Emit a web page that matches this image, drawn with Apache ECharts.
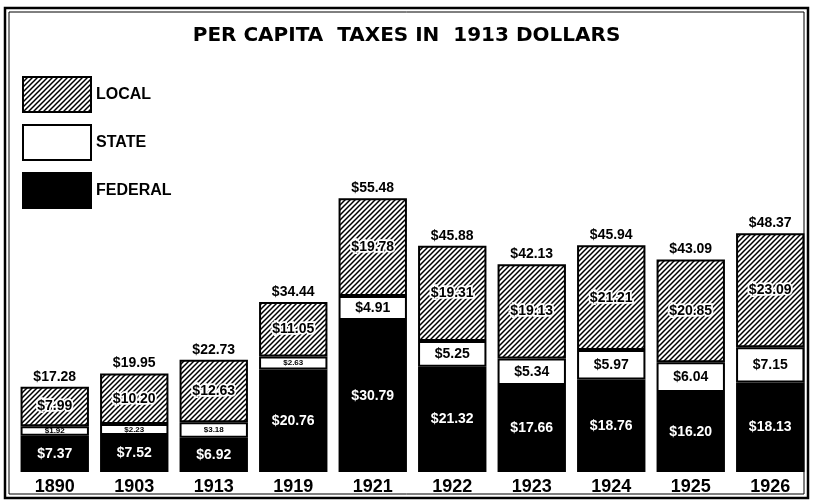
<!DOCTYPE html>
<html>
<head>
<meta charset="utf-8">
<script src="https://cdn.jsdelivr.net/npm/echarts@6/dist/echarts.min.js"></script>
<style>
  html, body { margin: 0; padding: 0; background: #fff; }
</style>
</head>
<body>
<div id="chart" style="width: 813px; height: 502px;"></div>
<script>
  // values (1913 dollars per capita)
  const years = ['1890', '1903', '1913', '1919', '1921', '1922', '1923', '1924', '1925', '1926'];
  const federal = [7.37, 7.52, 6.92, 20.76, 30.79, 21.32, 17.66, 18.76, 16.20, 18.13];
  const state = [1.92, 2.23, 3.18, 2.63, 4.91, 5.25, 5.34, 5.97, 6.04, 7.15];
  const local = [7.99, 10.20, 12.63, 11.05, 19.78, 19.31, 19.13, 21.21, 20.85, 23.09];
  const totals = [17.28, 19.95, 22.73, 34.44, 55.48, 45.88, 42.13, 45.94, 43.09, 48.37];

  // diagonal hatching for the local part
  function hatch() {
    let c = document.createElement('canvas');
    c.width = 5; c.height = 5;
    let ctx = c.getContext('2d');
    ctx.fillStyle = '#fff';
    ctx.fillRect(0, 0, 5, 5);
    ctx.strokeStyle = '#000';
    ctx.lineWidth = 1.5;
    ctx.beginPath();
    ctx.moveTo(-1, 6); ctx.lineTo(6, -1);
    ctx.moveTo(-4, 4); ctx.lineTo(4, -4);
    ctx.moveTo(1, 9); ctx.lineTo(9, 1);
    ctx.stroke();
    return c;
  }

  const money = v => '$' + v.toFixed(2);
  const labelFont = '"Liberation Sans Narrow", "Liberation Sans", Arial, sans-serif';

  let chart = echarts.init(document.getElementById('chart'));

  let option = {
    animation: false,
    title: {
      text: 'PER CAPITA  TAXES IN  1913 DOLLARS',
      left: 'center',
      top: 21,
      textStyle: { fontFamily: '"DejaVu Sans", sans-serif', fontWeight: 'bold', fontSize: 20, color: '#000' }
    },
    legend: {
      data: ['LOCAL', 'STATE', 'FEDERAL'],
      orient: 'vertical',
      left: 17,
      top: 71,
      itemWidth: 68,
      itemHeight: 35,
      itemGap: 11,
      icon: 'rect',
      selectedMode: false,
      textStyle: { fontFamily: '"Liberation Sans", Arial, sans-serif', fontWeight: 'bold', fontSize: 16, color: '#000' }
    },
    grid: { left: 15, right: 3, top: 176, bottom: 30 },
    xAxis: {
      type: 'category',
      data: years,
      axisLine: { show: false },
      axisTick: { show: false },
      axisLabel: { margin: 6, fontFamily: '"Liberation Sans", Arial, sans-serif', fontWeight: 'bold', fontSize: 18, color: '#000' }
    },
    yAxis: { type: 'value', min: 0, max: 60, show: false },
    series: [
      {
        name: 'FEDERAL',
        type: 'bar',
        stack: 'tax',
        barWidth: '86%',
        data: federal,
        itemStyle: { color: '#000', borderColor: '#000', borderWidth: 2 },
        label: {
          show: true, position: 'inside', color: '#fff',
          fontFamily: labelFont, fontWeight: 'bold', fontSize: 14,
          formatter: p => money(p.value)
        }
      },
      {
        name: 'STATE',
        type: 'bar',
        stack: 'tax',
        data: state.map(v => ({
          value: v,
          label: { fontSize: v < 3.5 ? 8 : 14 }
        })),
        itemStyle: { color: '#fff', borderColor: '#000', borderWidth: 2 },
        label: {
          show: true, position: 'inside', color: '#000',
          fontFamily: labelFont, fontWeight: 'bold', fontSize: 14,
          formatter: p => money(p.value)
        }
      },
      {
        name: 'LOCAL',
        type: 'bar',
        stack: 'tax',
        data: local,
        itemStyle: { color: { image: hatch(), repeat: 'repeat' }, borderColor: '#000', borderWidth: 2 },
        label: {
          show: true, position: 'inside', color: '#000',
          textBorderColor: '#fff', textBorderWidth: 3.5,
          fontFamily: labelFont, fontWeight: 'bold', fontSize: 14,
          formatter: p => money(p.value)
        }
      },
      {
        name: 'TOTAL',
        type: 'bar',
        stack: 'tax',
        data: totals.map(() => 0),
        itemStyle: { color: 'transparent' },
        label: {
          show: true, position: 'top', distance: 3, color: '#000',
          fontFamily: labelFont, fontWeight: 'bold', fontSize: 14,
          formatter: p => money(totals[p.dataIndex])
        }
      }
    ],
    graphic: [
      { type: 'rect', shape: { x: 5, y: 8, width: 803, height: 490 }, style: { fill: 'none', stroke: '#000', lineWidth: 2.5 } },
      { type: 'rect', shape: { x: 9, y: 12, width: 795, height: 482 }, style: { fill: 'none', stroke: '#000', lineWidth: 1 } }
    ]
  };

  chart.setOption(option);
</script>
</body>
</html>
